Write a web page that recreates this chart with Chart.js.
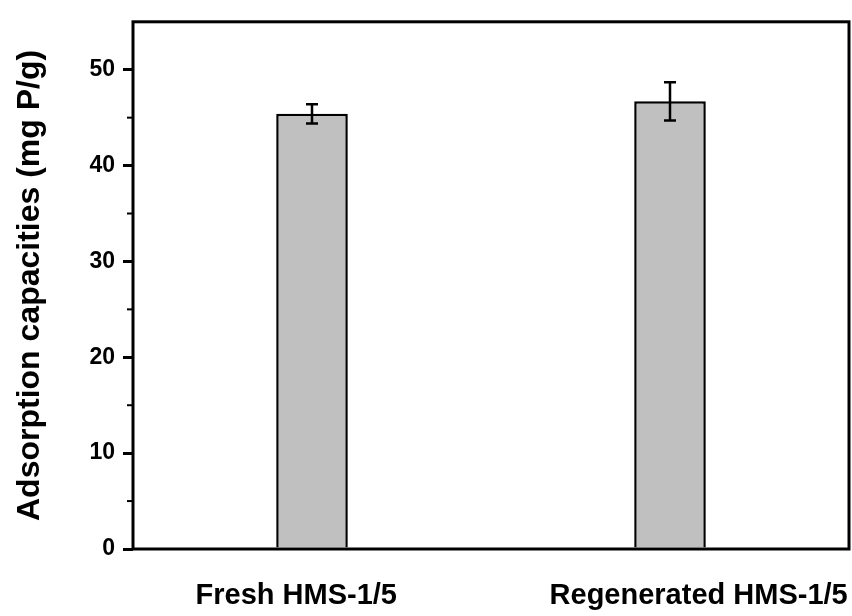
<!DOCTYPE html>
<html>
<head>
<meta charset="utf-8">
<style>
  body { margin: 0; background: #fff; }
  #wrap { width: 852px; height: 616px; }
</style>
</head>
<body>
<div id="wrap">
  <canvas id="chart" width="852" height="616"></canvas>
</div>

<script src="https://cdn.jsdelivr.net/npm/chart.js"></script>

<script>
  const categories = ['Fresh HMS-1/5', 'Regenerated HMS-1/5'];
  const capacities = [45.4, 46.7];
  const errors = [1.0, 2.0];
  const minorTicks = [5, 15, 25, 35, 45];

  const tickFont = { family: 'Arial, "Liberation Sans", sans-serif', size: 23, weight: 'bold' };
  const labelFont = { family: 'Arial, "Liberation Sans", sans-serif', size: 29, weight: 'bold' };

  // error bars, frame and minor ticks
  const extras = {
    id: 'extras',
    afterDatasetsDraw(chart) {
      const { ctx, scales: { y } } = chart;
      const meta = chart.getDatasetMeta(0);
      ctx.save();
      ctx.strokeStyle = '#000';
      ctx.lineWidth = 2.5;
      meta.data.forEach((bar, i) => {
        const top = y.getPixelForValue(capacities[i] + errors[i]);
        const bot = y.getPixelForValue(capacities[i] - errors[i]);
        ctx.beginPath();
        ctx.moveTo(bar.x, top); ctx.lineTo(bar.x, bot);
        ctx.moveTo(bar.x - 6, top); ctx.lineTo(bar.x + 6, top);
        ctx.moveTo(bar.x - 6, bot); ctx.lineTo(bar.x + 6, bot);
        ctx.stroke();
      });
      ctx.restore();
    },
    afterDraw(chart) {
      const { ctx, chartArea: a, scales: { y } } = chart;
      ctx.save();
      ctx.strokeStyle = '#000';
      ctx.lineWidth = 3;
      ctx.strokeRect(a.left, a.top, a.right - a.left, a.bottom - a.top);
      ctx.lineWidth = 2;
      minorTicks.forEach(v => {
        const py = y.getPixelForValue(v);
        ctx.beginPath();
        ctx.moveTo(a.left - 6, py); ctx.lineTo(a.left, py);
        ctx.stroke();
      });
      ctx.restore();
    }
  };

  const chart = new Chart(document.getElementById('chart'), {
    type: 'bar',
    data: {
      labels: categories,
      datasets: [{
        data: capacities,
        backgroundColor: '#c0c0c0',
        borderColor: '#000',
        borderWidth: 2.5,
        barPercentage: 0.2,
        categoryPercentage: 1,
      }],
    },
    options: {
      responsive: false,
      animation: false,
      layout: { padding: { top: 15, right: 3, left: 0, bottom: 0 } },
      plugins: { legend: { display: false }, tooltip: { enabled: false } },
      scales: {
        x: { display: false },
        x2: {
          type: 'linear',
          position: 'bottom',
          offset: false,
          min: 0,
          max: 1,
          grid: { display: false, drawTicks: false, offset: false },
          border: { display: false },
          afterBuildTicks: (s) => { s.ticks = [{ value: 0.228 }, { value: 0.79 }]; },
          afterFit: (s) => { s.height = 67; s.paddingLeft = 0; s.paddingRight = 0; },
          ticks: {
            autoSkip: false,
            maxRotation: 0,
            padding: 30,
            color: '#000',
            font: labelFont,
            callback: (v, i) => categories[i],
          },
        },
        y: {
          min: 0,
          max: 55,
          afterFit: (s) => { s.width = 133; },
          grid: { drawOnChartArea: false, tickLength: 10, lineWidth: 3, color: '#000' },
          border: { display: false },
          ticks: {
            stepSize: 10,
            includeBounds: false,
            padding: 8,
            color: '#000',
            font: tickFont,
          },
          title: {
            display: true,
            text: 'Adsorption capacities (mg P/g)',
            color: '#000',
            font: { family: 'Arial, "Liberation Sans", sans-serif', size: 32, weight: 'bold' },
            padding: { top: 11, bottom: 0 },
          },
        },
      },
    },
    plugins: [extras],
  });
</script>
</body>
</html>
